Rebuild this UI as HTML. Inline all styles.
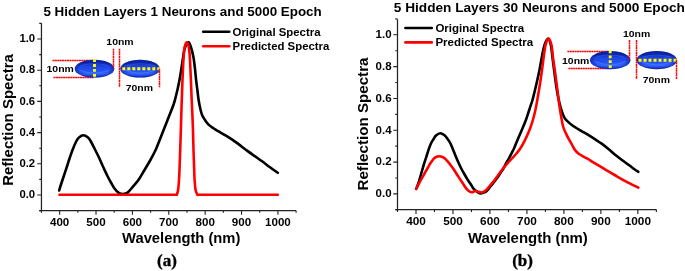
<!DOCTYPE html>
<html><head><meta charset="utf-8"><title>Reflection spectra</title>
<style>
html,body{margin:0;padding:0;background:#fff;}
body{width:685px;height:271px;overflow:hidden;}
svg{display:block;will-change:transform;}
text{font-family:"Liberation Sans",sans-serif;font-weight:bold;fill:#000;}
text.serif{font-family:"Liberation Serif",serif;stroke:#000;stroke-width:0.35px;}
</style></head>
<body>
<svg width="685" height="271" viewBox="0 0 685 271">
<defs>
<linearGradient id="eg" x1="0" y1="0" x2="0" y2="1">
<stop offset="0" stop-color="#1232c4"/>
<stop offset="0.16" stop-color="#0b24a6"/>
<stop offset="0.36" stop-color="#1d45e2"/>
<stop offset="0.6" stop-color="#2450f2"/>
<stop offset="0.8" stop-color="#3262ff"/>
<stop offset="0.9" stop-color="#2246e0"/>
<stop offset="1" stop-color="#1a3cd0"/>
</linearGradient>
<radialGradient id="eg2" cx="0.5" cy="0.5" r="0.5">
<stop offset="0.75" stop-color="#000a70" stop-opacity="0"/>
<stop offset="1" stop-color="#000a70" stop-opacity="0.45"/>
</radialGradient>
</defs>
<rect width="685" height="271" fill="#fff"/>
<path d="M41.45,23.20 V210.50 M39.25,210.50 H296.00" stroke="#222" stroke-width="1.25" fill="none"/>
<path d="M39.25,210.60 H41.45 M37.25,195.00 H41.45 M39.25,179.40 H41.45 M37.25,163.80 H41.45 M39.25,148.20 H41.45 M37.25,132.60 H41.45 M39.25,117.00 H41.45 M37.25,101.40 H41.45 M39.25,85.80 H41.45 M37.25,70.20 H41.45 M39.25,54.60 H41.45 M37.25,39.00 H41.45 M39.25,23.40 H41.45 M41.45,210.50 V212.70 M59.64,210.50 V214.70 M77.83,210.50 V212.70 M96.02,210.50 V214.70 M114.21,210.50 V212.70 M132.40,210.50 V214.70 M150.59,210.50 V212.70 M168.78,210.50 V214.70 M186.97,210.50 V212.70 M205.16,210.50 V214.70 M223.35,210.50 V212.70 M241.54,210.50 V214.70 M259.73,210.50 V212.70 M277.92,210.50 V214.70 M296.11,210.50 V212.70 " stroke="#222" stroke-width="1.1" fill="none"/>
<text x="35.10" y="198.25" text-anchor="end" font-size="11.3">0.0</text>
<text x="35.10" y="167.05" text-anchor="end" font-size="11.3">0.2</text>
<text x="35.10" y="135.85" text-anchor="end" font-size="11.3">0.4</text>
<text x="35.10" y="104.65" text-anchor="end" font-size="11.3">0.6</text>
<text x="35.10" y="73.45" text-anchor="end" font-size="11.3">0.8</text>
<text x="35.10" y="42.25" text-anchor="end" font-size="11.3">1.0</text>
<text x="59.64" y="225.80" text-anchor="middle" font-size="11.600000000000001">400</text>
<text x="96.02" y="225.80" text-anchor="middle" font-size="11.600000000000001">500</text>
<text x="132.40" y="225.80" text-anchor="middle" font-size="11.600000000000001">600</text>
<text x="168.78" y="225.80" text-anchor="middle" font-size="11.600000000000001">700</text>
<text x="205.16" y="225.80" text-anchor="middle" font-size="11.600000000000001">800</text>
<text x="241.54" y="225.80" text-anchor="middle" font-size="11.600000000000001">900</text>
<text x="277.92" y="225.80" text-anchor="middle" font-size="11.600000000000001">1000</text>
<path d="M59.20,190.50 C59.42,189.75 59.73,188.42 60.50,186.00 C61.27,183.58 62.75,179.17 63.80,176.00 C64.85,172.83 65.82,170.00 66.80,167.00 C67.78,164.00 68.68,161.00 69.70,158.00 C70.72,155.00 71.78,151.83 72.90,149.00 C74.02,146.17 75.38,142.93 76.40,141.00 C77.42,139.07 77.83,138.35 79.00,137.40 C80.17,136.45 81.90,135.30 83.40,135.30 C84.90,135.30 86.80,136.45 88.00,137.40 C89.20,138.35 89.52,139.15 90.60,141.00 C91.68,142.85 93.07,145.67 94.50,148.50 C95.93,151.33 97.67,154.75 99.20,158.00 C100.73,161.25 102.28,164.92 103.70,168.00 C105.12,171.08 106.40,173.92 107.70,176.50 C109.00,179.08 110.30,181.42 111.50,183.50 C112.70,185.58 113.75,187.48 114.90,189.00 C116.05,190.52 117.07,191.77 118.40,192.60 C119.73,193.43 121.37,194.00 122.90,194.00 C124.43,194.00 125.88,193.88 127.60,192.60 C129.32,191.32 131.37,188.43 133.20,186.30 C135.03,184.17 136.72,182.52 138.60,179.80 C140.48,177.08 142.53,173.30 144.50,170.00 C146.47,166.70 148.55,163.33 150.40,160.00 C152.25,156.67 154.05,153.33 155.60,150.00 C157.15,146.67 158.37,143.33 159.70,140.00 C161.03,136.67 162.55,132.67 163.60,130.00 C164.65,127.33 165.02,126.50 166.00,124.00 C166.98,121.50 168.27,118.17 169.50,115.00 C170.73,111.83 172.45,107.67 173.40,105.00 C174.35,102.33 174.50,101.67 175.20,99.00 C175.90,96.33 176.88,92.17 177.60,89.00 C178.32,85.83 178.85,83.50 179.50,80.00 C180.15,76.50 180.92,71.67 181.50,68.00 C182.08,64.33 182.45,61.33 183.00,58.00 C183.55,54.67 183.87,50.60 184.80,48.00 C185.73,45.40 187.53,42.40 188.60,42.40 C189.67,42.40 190.40,45.57 191.20,48.00 C192.00,50.43 192.78,53.67 193.40,57.00 C194.02,60.33 194.45,64.17 194.90,68.00 C195.35,71.83 195.67,76.17 196.10,80.00 C196.53,83.83 197.08,87.67 197.50,91.00 C197.92,94.33 198.08,96.83 198.60,100.00 C199.12,103.17 200.00,107.47 200.60,110.00 C201.20,112.53 201.53,113.63 202.20,115.20 C202.87,116.77 203.58,117.88 204.60,119.40 C205.62,120.92 206.83,122.83 208.30,124.30 C209.77,125.77 211.68,127.02 213.40,128.20 C215.12,129.38 216.75,130.30 218.60,131.40 C220.45,132.50 221.82,133.13 224.50,134.80 C227.18,136.47 230.88,138.72 234.70,141.40 C238.52,144.08 244.07,148.45 247.40,150.90 C250.73,153.35 252.25,154.37 254.70,156.10 C257.15,157.83 259.55,159.45 262.10,161.30 C264.65,163.15 267.38,165.28 270.00,167.20 C272.62,169.12 276.50,171.87 277.80,172.80" stroke="#000000" stroke-width="2.6" fill="none" stroke-linejoin="round" stroke-linecap="round"/>
<path d="M59.50,194.80 L176.80,194.80 C177.02,194.00 177.73,192.47 178.10,190.00 C178.47,187.53 178.77,183.33 179.00,180.00 C179.23,176.67 179.30,175.00 179.50,170.00 C179.70,165.00 179.95,157.50 180.20,150.00 C180.45,142.50 180.77,132.50 181.00,125.00 C181.23,117.50 181.35,112.50 181.60,105.00 C181.85,97.50 182.22,87.17 182.50,80.00 C182.78,72.83 183.05,66.67 183.30,62.00 C183.55,57.33 183.73,54.67 184.00,52.00 C184.27,49.33 184.45,47.60 184.90,46.00 C185.35,44.40 186.10,42.40 186.70,42.40 C187.30,42.40 188.05,44.40 188.50,46.00 C188.95,47.60 189.13,49.33 189.40,52.00 C189.67,54.67 189.85,57.33 190.10,62.00 C190.35,66.67 190.63,73.67 190.90,80.00 C191.17,86.33 191.38,92.50 191.70,100.00 C192.02,107.50 192.50,116.67 192.80,125.00 C193.10,133.33 193.27,142.50 193.50,150.00 C193.73,157.50 194.02,165.00 194.20,170.00 C194.38,175.00 194.37,176.67 194.60,180.00 C194.83,183.33 195.13,187.53 195.60,190.00 C196.07,192.47 197.10,194.00 197.40,194.80 L277.80,194.80" stroke="#ff0000" stroke-width="2.6" fill="none" stroke-linejoin="round" stroke-linecap="round"/>
<path d="M397.50,19.20 V209.70 M395.30,209.70 H656.60" stroke="#222" stroke-width="1.25" fill="none"/>
<path d="M395.30,209.81 H397.50 M393.30,193.90 H397.50 M395.30,177.99 H397.50 M393.30,162.08 H397.50 M395.30,146.17 H397.50 M393.30,130.26 H397.50 M395.30,114.35 H397.50 M393.30,98.44 H397.50 M395.30,82.53 H397.50 M393.30,66.62 H397.50 M395.30,50.71 H397.50 M393.30,34.80 H397.50 M395.30,18.89 H397.50 M397.50,209.70 V211.90 M415.99,209.70 V213.90 M434.48,209.70 V211.90 M452.97,209.70 V213.90 M471.46,209.70 V211.90 M489.95,209.70 V213.90 M508.44,209.70 V211.90 M526.93,209.70 V213.90 M545.42,209.70 V211.90 M563.91,209.70 V213.90 M582.40,209.70 V211.90 M600.89,209.70 V213.90 M619.38,209.70 V211.90 M637.87,209.70 V213.90 M656.36,209.70 V211.90 " stroke="#222" stroke-width="1.1" fill="none"/>
<text x="391.60" y="197.15" text-anchor="end" font-size="11.5">0.0</text>
<text x="391.60" y="165.33" text-anchor="end" font-size="11.5">0.2</text>
<text x="391.60" y="133.51" text-anchor="end" font-size="11.5">0.4</text>
<text x="391.60" y="101.69" text-anchor="end" font-size="11.5">0.6</text>
<text x="391.60" y="69.87" text-anchor="end" font-size="11.5">0.8</text>
<text x="391.60" y="38.05" text-anchor="end" font-size="11.5">1.0</text>
<text x="415.99" y="225.00" text-anchor="middle" font-size="11.8">400</text>
<text x="452.97" y="225.00" text-anchor="middle" font-size="11.8">500</text>
<text x="489.95" y="225.00" text-anchor="middle" font-size="11.8">600</text>
<text x="526.93" y="225.00" text-anchor="middle" font-size="11.8">700</text>
<text x="563.91" y="225.00" text-anchor="middle" font-size="11.8">800</text>
<text x="600.89" y="225.00" text-anchor="middle" font-size="11.8">900</text>
<text x="637.87" y="225.00" text-anchor="middle" font-size="11.8">1000</text>
<path d="M416.20,188.80 C416.55,187.92 417.48,185.97 418.30,183.50 C419.12,181.03 420.15,177.25 421.10,174.00 C422.05,170.75 423.08,167.00 424.00,164.00 C424.92,161.00 425.77,158.58 426.60,156.00 C427.43,153.42 428.23,150.67 429.00,148.50 C429.77,146.33 430.43,144.58 431.20,143.00 C431.97,141.42 432.80,140.27 433.60,139.00 C434.40,137.73 434.90,136.37 436.00,135.40 C437.10,134.43 438.78,133.22 440.20,133.20 C441.62,133.18 443.27,134.33 444.50,135.30 C445.73,136.27 446.65,137.72 447.60,139.00 C448.55,140.28 449.40,141.50 450.20,143.00 C451.00,144.50 451.50,145.83 452.40,148.00 C453.30,150.17 454.63,153.67 455.60,156.00 C456.57,158.33 457.30,160.00 458.20,162.00 C459.10,164.00 459.98,166.00 461.00,168.00 C462.02,170.00 463.20,172.07 464.30,174.00 C465.40,175.93 466.55,177.93 467.60,179.60 C468.65,181.27 469.58,182.45 470.60,184.00 C471.62,185.55 472.65,187.62 473.70,188.90 C474.75,190.18 475.78,190.95 476.90,191.70 C478.02,192.45 479.13,193.28 480.40,193.40 C481.67,193.52 483.30,192.97 484.50,192.40 C485.70,191.83 486.58,191.02 487.60,190.00 C488.62,188.98 489.43,187.75 490.60,186.30 C491.77,184.85 493.30,182.98 494.60,181.30 C495.90,179.62 497.33,177.72 498.40,176.20 C499.47,174.68 500.20,173.40 501.00,172.20 C501.80,171.00 502.35,170.50 503.20,169.00 C504.05,167.50 505.12,165.03 506.10,163.20 C507.08,161.37 508.17,159.70 509.10,158.00 C510.03,156.30 510.85,154.67 511.70,153.00 C512.55,151.33 513.20,150.25 514.20,148.00 C515.20,145.75 516.43,142.50 517.70,139.50 C518.97,136.50 520.43,133.25 521.80,130.00 C523.17,126.75 524.67,123.33 525.90,120.00 C527.13,116.67 528.10,113.33 529.20,110.00 C530.30,106.67 531.53,103.33 532.50,100.00 C533.47,96.67 534.20,93.33 535.00,90.00 C535.80,86.67 536.55,83.33 537.30,80.00 C538.05,76.67 538.83,73.33 539.50,70.00 C540.17,66.67 540.68,63.33 541.30,60.00 C541.92,56.67 542.55,52.83 543.20,50.00 C543.85,47.17 544.40,44.87 545.20,43.00 C546.00,41.13 547.13,38.80 548.00,38.80 C548.87,38.80 549.80,41.13 550.40,43.00 C551.00,44.87 551.20,47.17 551.60,50.00 C552.00,52.83 552.17,55.00 552.80,60.00 C553.43,65.00 554.67,74.67 555.40,80.00 C556.13,85.33 556.63,88.67 557.20,92.00 C557.77,95.33 558.32,97.75 558.80,100.00 C559.28,102.25 559.53,103.43 560.10,105.50 C560.67,107.57 561.48,110.38 562.20,112.40 C562.92,114.42 563.50,116.10 564.40,117.60 C565.30,119.10 566.25,120.08 567.60,121.40 C568.95,122.72 570.30,123.97 572.50,125.50 C574.70,127.03 578.18,129.03 580.80,130.60 C583.42,132.17 585.73,133.40 588.20,134.90 C590.67,136.40 593.30,138.10 595.60,139.60 C597.90,141.10 599.70,142.20 602.00,143.90 C604.30,145.60 607.32,148.07 609.40,149.80 C611.48,151.53 612.42,152.60 614.50,154.30 C616.58,156.00 619.45,158.17 621.90,160.00 C624.35,161.83 627.12,163.77 629.20,165.30 C631.28,166.83 632.88,168.12 634.40,169.20 C635.92,170.28 637.65,171.37 638.30,171.80" stroke="#000000" stroke-width="2.6" fill="none" stroke-linejoin="round" stroke-linecap="round"/>
<path d="M416.20,188.80 C416.98,187.33 419.47,182.63 420.90,180.00 C422.33,177.37 423.63,175.08 424.80,173.00 C425.97,170.92 426.92,169.20 427.90,167.50 C428.88,165.80 429.72,164.28 430.70,162.80 C431.68,161.32 432.83,159.60 433.80,158.60 C434.77,157.60 435.62,157.18 436.50,156.80 C437.38,156.42 438.18,156.30 439.10,156.30 C440.02,156.30 440.98,156.38 442.00,156.80 C443.02,157.22 444.15,157.90 445.20,158.80 C446.25,159.70 447.28,161.00 448.30,162.20 C449.32,163.40 450.30,164.67 451.30,166.00 C452.30,167.33 453.10,168.38 454.30,170.20 C455.50,172.02 457.03,174.63 458.50,176.90 C459.97,179.17 461.72,181.75 463.10,183.80 C464.48,185.85 465.62,187.85 466.80,189.20 C467.98,190.55 469.23,191.42 470.20,191.90 C471.17,192.38 471.80,192.25 472.60,192.10 C473.40,191.95 474.18,191.12 475.00,191.00 C475.82,190.88 476.67,191.20 477.50,191.40 C478.33,191.60 479.13,192.05 480.00,192.20 C480.87,192.35 481.67,192.67 482.70,192.30 C483.73,191.93 485.05,191.05 486.20,190.00 C487.35,188.95 488.32,187.50 489.60,186.00 C490.88,184.50 492.57,182.67 493.90,181.00 C495.23,179.33 496.53,177.47 497.60,176.00 C498.67,174.53 499.45,173.37 500.30,172.20 C501.15,171.03 501.58,170.40 502.70,169.00 C503.82,167.60 505.38,165.63 507.00,163.80 C508.62,161.97 510.77,159.80 512.40,158.00 C514.03,156.20 515.43,154.67 516.80,153.00 C518.17,151.33 519.22,150.20 520.60,148.00 C521.98,145.80 523.62,142.80 525.10,139.80 C526.58,136.80 528.20,133.30 529.50,130.00 C530.80,126.70 531.92,123.33 532.90,120.00 C533.88,116.67 534.67,113.33 535.40,110.00 C536.13,106.67 536.70,103.33 537.30,100.00 C537.90,96.67 538.45,93.33 539.00,90.00 C539.55,86.67 540.10,83.33 540.60,80.00 C541.10,76.67 541.55,73.33 542.00,70.00 C542.45,66.67 542.88,63.17 543.30,60.00 C543.72,56.83 544.08,53.67 544.50,51.00 C544.92,48.33 545.13,46.10 545.80,44.00 C546.47,41.90 547.60,38.40 548.50,38.40 C549.40,38.40 550.57,41.90 551.20,44.00 C551.83,46.10 551.95,48.33 552.30,51.00 C552.65,53.67 552.88,56.83 553.30,60.00 C553.72,63.17 554.33,66.67 554.80,70.00 C555.27,73.33 555.67,76.67 556.10,80.00 C556.53,83.33 556.98,86.67 557.40,90.00 C557.82,93.33 558.23,97.17 558.60,100.00 C558.97,102.83 559.22,104.50 559.60,107.00 C559.98,109.50 560.42,112.17 560.90,115.00 C561.38,117.83 561.95,121.57 562.50,124.00 C563.05,126.43 563.45,127.67 564.20,129.60 C564.95,131.53 566.12,133.82 567.00,135.60 C567.88,137.38 568.63,138.70 569.50,140.30 C570.37,141.90 571.33,143.65 572.20,145.20 C573.07,146.75 573.67,148.23 574.70,149.60 C575.73,150.97 576.92,152.23 578.40,153.40 C579.88,154.57 581.87,155.58 583.60,156.60 C585.33,157.62 587.33,158.63 588.80,159.50 C590.27,160.37 590.58,160.68 592.40,161.80 C594.22,162.92 597.25,164.73 599.70,166.20 C602.15,167.67 604.62,169.13 607.10,170.60 C609.58,172.07 611.48,173.20 614.60,175.00 C617.72,176.80 621.85,179.28 625.80,181.40 C629.75,183.52 636.22,186.65 638.30,187.70" stroke="#ff0000" stroke-width="2.6" fill="none" stroke-linejoin="round" stroke-linecap="round"/>
<path d="M203.2,31.8 H229.3" stroke="#000" stroke-width="2.6" stroke-linecap="round"/><path d="M203.2,46.2 H229.3" stroke="#ff0000" stroke-width="2.6" stroke-linecap="round"/><text x="232.6" y="35.70" font-size="11.38">Original Spectra</text><text x="232.6" y="50.10" font-size="11.38">Predicted Spectra</text>
<path d="M405.4,28.0 H431.8" stroke="#000" stroke-width="2.6" stroke-linecap="round"/><path d="M405.4,42.4 H431.8" stroke="#ff0000" stroke-width="2.6" stroke-linecap="round"/><text x="435.4" y="31.90" font-size="11.5">Original Spectra</text><text x="435.4" y="46.30" font-size="11.5">Predicted Spectra</text>
<path d="M52.50,60.50 H93.50 M53.50,77.50 H93.50" stroke="#ff0000" stroke-width="1.5" stroke-dasharray="2 0.4" fill="none"/>
<ellipse cx="94.50" cy="68.70" rx="19.80" ry="8.90" fill="url(#eg)"/>
<ellipse cx="94.50" cy="68.70" rx="19.80" ry="8.90" fill="url(#eg2)"/>
<path d="M79.70,70.20 Q94.50,76.20 109.30,70.20" fill="none" stroke="#4a78ff" stroke-width="1" opacity="0.8"/>
<path d="M80.70,65.70 Q94.50,61.70 108.30,65.70" fill="none" stroke="#3a60f0" stroke-width="0.8" opacity="0.6"/>
<ellipse cx="140.10" cy="68.70" rx="19.80" ry="8.90" fill="url(#eg)"/>
<ellipse cx="140.10" cy="68.70" rx="19.80" ry="8.90" fill="url(#eg2)"/>
<path d="M125.30,70.20 Q140.10,76.20 154.90,70.20" fill="none" stroke="#4a78ff" stroke-width="1" opacity="0.8"/>
<path d="M126.30,65.70 Q140.10,61.70 153.90,65.70" fill="none" stroke="#3a60f0" stroke-width="0.8" opacity="0.6"/>
<path d="M94.50,59.20 V77.60" stroke="#ffff00" stroke-width="2.9" stroke-dasharray="2.8 2.1" fill="none"/>
<path d="M122.30,68.70 H159.90" stroke="#ffff00" stroke-width="3" stroke-dasharray="3 2" fill="none"/>
<path d="M113.50,48.80 V68.20 M119.50,48.80 V87.20 M159.50,68.70 V87.20" stroke="#ff0000" stroke-width="1.5" stroke-dasharray="2 0.4" fill="none"/>
<path d="M567.36,51.50 H609.20 M568.38,68.50 H609.20" stroke="#ff0000" stroke-width="1.5" stroke-dasharray="2 0.4" fill="none"/>
<ellipse cx="610.20" cy="60.20" rx="20.20" ry="9.08" fill="url(#eg)"/>
<ellipse cx="610.20" cy="60.20" rx="20.20" ry="9.08" fill="url(#eg2)"/>
<path d="M595.10,61.73 Q610.20,67.85 625.30,61.73" fill="none" stroke="#4a78ff" stroke-width="1" opacity="0.8"/>
<path d="M596.12,57.14 Q610.20,53.06 624.28,57.14" fill="none" stroke="#3a60f0" stroke-width="0.8" opacity="0.6"/>
<ellipse cx="656.71" cy="60.20" rx="20.20" ry="9.08" fill="url(#eg)"/>
<ellipse cx="656.71" cy="60.20" rx="20.20" ry="9.08" fill="url(#eg2)"/>
<path d="M641.62,61.73 Q656.71,67.85 671.81,61.73" fill="none" stroke="#4a78ff" stroke-width="1" opacity="0.8"/>
<path d="M642.64,57.14 Q656.71,53.06 670.79,57.14" fill="none" stroke="#3a60f0" stroke-width="0.8" opacity="0.6"/>
<path d="M610.20,50.52 V69.28" stroke="#ffff00" stroke-width="2.9" stroke-dasharray="2.8 2.1" fill="none"/>
<path d="M638.52,60.20 H676.91" stroke="#ffff00" stroke-width="3" stroke-dasharray="3 2" fill="none"/>
<path d="M629.50,39.90 V59.70 M636.50,39.90 V79.07 M676.50,60.20 V79.07" stroke="#ff0000" stroke-width="1.5" stroke-dasharray="2 0.4" fill="none"/>
<text transform="translate(46.55,71.70) scale(1.045,0.93)" font-size="10.0">10nm</text>
<text transform="translate(106.35,44.90) scale(1.045,0.93)" font-size="10.0">10nm</text>
<text transform="translate(125.76,90.70) scale(1.045,0.93)" font-size="10.0">70nm</text>
<text transform="translate(562.05,63.80) scale(1.045,0.93)" font-size="10.0">10nm</text>
<text transform="translate(622.95,36.50) scale(1.045,0.93)" font-size="10.0">10nm</text>
<text transform="translate(642.66,83.30) scale(1.045,0.93)" font-size="10.0">70nm</text>
<text x="43.4" y="16.4" font-size="13.4">5 Hidden Layers 1 Neurons and 5000 Epoch</text>
<text x="393.8" y="11.75" font-size="13.65">5 Hidden Layers 30 Neurons and 5000 Epoch</text>
<text transform="translate(12.9,185.8) rotate(-90)" font-size="15.0">Reflection Spectra</text>
<text transform="translate(368.0,190.5) rotate(-90)" font-size="15.15">Reflection Spectra</text>
<text x="122.1" y="243.0" font-size="14.75">Wavelength (nm)</text>
<text x="468.0" y="242.6" font-size="14.95">Wavelength (nm)</text>
<text x="157.0" y="266.0" font-size="17" class="serif">(a)</text>
<text x="512.2" y="265.8" font-size="17" class="serif">(b)</text>
</svg>
</body></html>
